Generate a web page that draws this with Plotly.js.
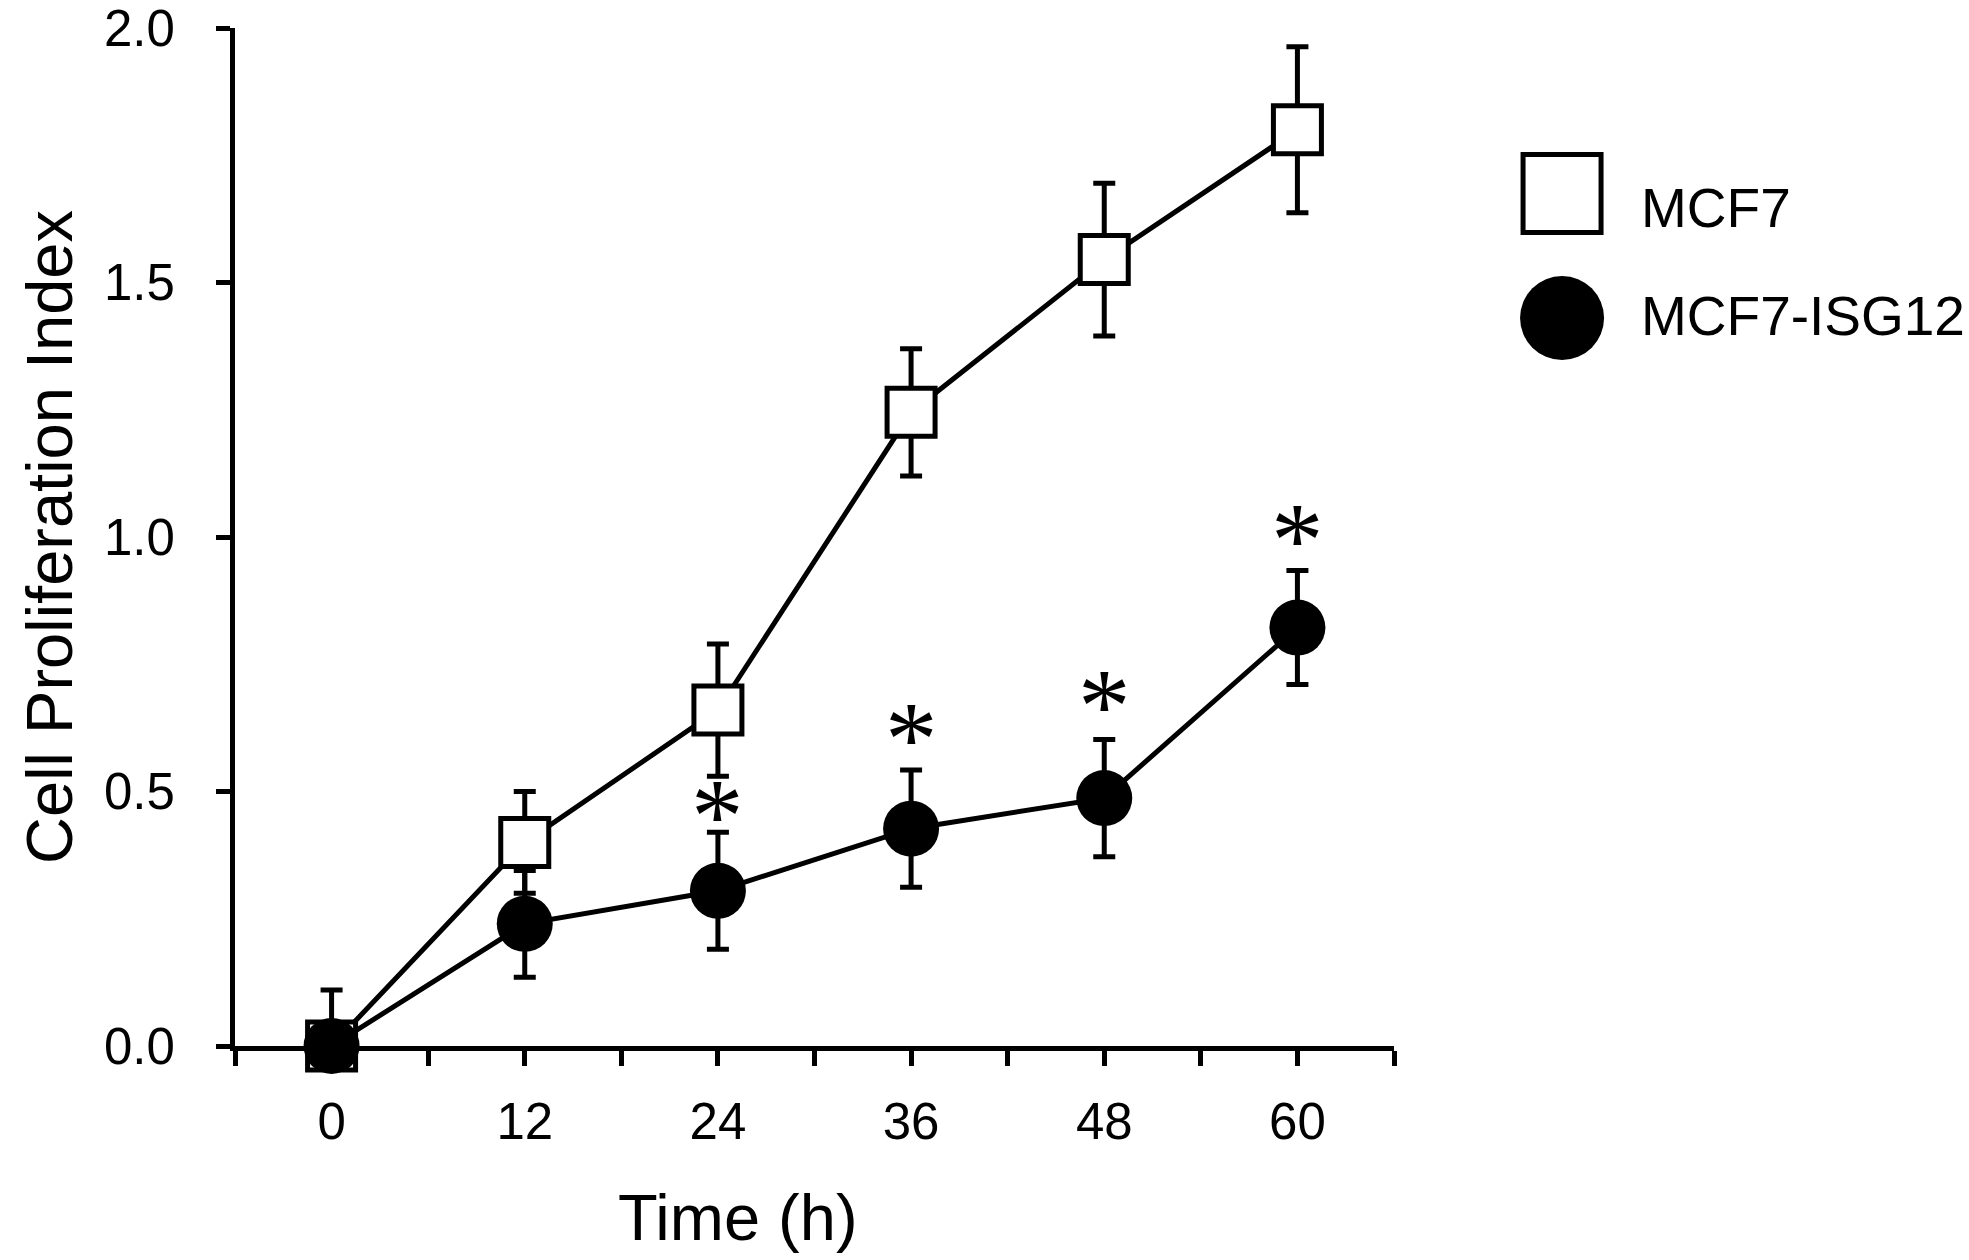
<!DOCTYPE html>
<html>
<head>
<meta charset="utf-8">
<script src="https://cdn.plot.ly/plotly-3.0.1.min.js"></script>
<style>
  html, body { margin: 0; padding: 0; background: #fff; }
  #chart { width: 1969px; height: 1260px; }
</style>
</head>
<body>
<div id="chart"></div>
<script>
/*** DATA ***/
const timePoints = [0, 12, 24, 36, 48, 60];

// MCF7 (open squares)
const mcf7Mean = [0.00, 0.40, 0.66, 1.245, 1.545, 1.80];
const mcf7Err = [0.11, 0.10, 0.13, 0.125, 0.15, 0.163];
const mcf7ErrMinus = [0.00, 0.10, 0.13, 0.125, 0.15, 0.163];

// MCF7-ISG12 (filled circles)
const isgMean = [0.00, 0.24, 0.305, 0.427, 0.487, 0.822];
const isgErr = [0.00, 0.105, 0.115, 0.115, 0.115, 0.112];
const isgErrMinus = [0.00, 0.105, 0.115, 0.115, 0.115, 0.112];

// significance marks
const sigTime = [24, 36, 48, 60];
const sigY = [0.475, 0.625, 0.69, 1.016];

// x ticks every 6 h, labels every 12 h
const xTickVals = [-6, 0, 6, 12, 18, 24, 30, 36, 42, 48, 54, 60, 66];
const xTickText = ['', '0', '', '12', '', '24', '', '36', '', '48', '', '60', ''];
const yTickVals = [0, 0.5, 1.0, 1.5, 2.0];
const yTickText = ['0.0', '0.5', '1.0', '1.5', '2.0'];

const seriesNames = ['MCF7', 'MCF7-ISG12'];

/*** TRACES ***/
const FONT = '"Liberation Sans", Arial, sans-serif';
const STAR_FONT = '"Liberation Serif", "Times New Roman", serif';

const traceMcf7 = {
    x: timePoints,
    y: mcf7Mean,
    name: seriesNames[0],
    type: 'scatter',
    mode: 'lines+markers',
    cliponaxis: false,
    line: { color: '#000', width: 5 },
    marker: {
        symbol: 'square',
        size: 48,
        color: '#fff',
        line: { color: '#000', width: 5 }
    },
    error_y: {
        type: 'data',
        symmetric: false,
        array: mcf7Err,
        arrayminus: mcf7ErrMinus,
        color: '#000',
        thickness: 5,
        width: 11
    }
};

const traceIsg = {
    x: timePoints,
    y: isgMean,
    name: seriesNames[1],
    type: 'scatter',
    mode: 'lines+markers',
    cliponaxis: false,
    line: { color: '#000', width: 5 },
    marker: {
        symbol: 'circle',
        size: 56,
        color: '#000',
        line: { color: '#000', width: 0 }
    },
    error_y: {
        type: 'data',
        symmetric: false,
        array: isgErr,
        arrayminus: isgErrMinus,
        color: '#000',
        thickness: 5,
        width: 11
    }
};

// asterisks over the ISG12 points
const sigAnnotations = sigTime.map((t, i) => ({
    x: t,
    y: sigY[i],
    xref: 'x',
    yref: 'y',
    text: '*',
    showarrow: false,
    font: { family: STAR_FONT, size: 105, color: '#000' },
    xanchor: 'center',
    yanchor: 'middle',
    yshift: -12
}));

/*** LEGEND (drawn by hand so symbols keep their size) ***/
const legendSymbolY = [0.8374, 0.7151];
const legendTextY = [0.8232, 0.7171];
const legendShapes = [
    {
        type: 'rect', xref: 'paper', yref: 'paper',
        xsizemode: 'pixel', ysizemode: 'pixel',
        xanchor: 1.145, yanchor: legendSymbolY[0],
        x0: -39, x1: 39, y0: -39, y1: 39,
        line: { color: '#000', width: 5 }, fillcolor: '#fff'
    },
    {
        type: 'circle', xref: 'paper', yref: 'paper',
        xsizemode: 'pixel', ysizemode: 'pixel',
        xanchor: 1.145, yanchor: legendSymbolY[1],
        x0: -42, x1: 42, y0: -42, y1: 42,
        line: { color: '#000', width: 0 }, fillcolor: '#000'
    }
];
const legendLabels = seriesNames.map((name, i) => ({
    x: 1.211,
    y: legendTextY[i],
    xref: 'paper',
    yref: 'paper',
    text: name,
    showarrow: false,
    xanchor: 'left',
    yanchor: 'middle',
    font: { family: FONT, size: 55, color: '#000' }
}));

// x title sits left of the axis centre in the original, so place it by hand
const xTitle = {
    x: 0.434,
    y: -0.168,
    xref: 'paper',
    yref: 'paper',
    text: 'Time (h)',
    showarrow: false,
    xanchor: 'center',
    yanchor: 'middle',
    font: { family: FONT, size: 65, color: '#000' }
};

/*** LAYOUT ***/
const layout = {
    width: 1969,
    height: 1260,
    margin: { l: 235, r: 575, t: 28, b: 214 },
    paper_bgcolor: '#fff',
    plot_bgcolor: '#fff',
    showlegend: false,
    font: { family: FONT, color: '#000' },
    xaxis: {
        range: [-6, 66],
        tickvals: xTickVals,
        ticktext: xTickText,
        ticks: 'outside',
        ticklen: 15,
        tickwidth: 5,
        tickcolor: '#000',
        showline: true,
        linecolor: '#000',
        linewidth: 5,
        showgrid: false,
        zeroline: false,
        tickfont: { family: FONT, size: 51, color: '#000' },
        ticklabelstandoff: 12,
        ticklabeloverflow: 'allow'
    },
    yaxis: {
        range: [0, 2.0],
        tickvals: yTickVals,
        ticktext: yTickText,
        ticks: 'outside',
        ticklen: 14,
        tickwidth: 5,
        tickcolor: '#000',
        showline: true,
        linecolor: '#000',
        linewidth: 5,
        showgrid: false,
        zeroline: false,
        tickfont: { family: FONT, size: 51, color: '#000' },
        ticklabelstandoff: 31,
        ticklabeloverflow: 'allow',
        title: {
            text: 'Cell Proliferation Index',
            font: { family: FONT, size: 65, color: '#000' },
            standoff: 12
        }
    },
    shapes: legendShapes,
    annotations: sigAnnotations.concat(legendLabels, [xTitle])
};

Plotly.newPlot('chart', [traceMcf7, traceIsg], layout, { displayModeBar: false, staticPlot: true });
</script>
</body>
</html>
